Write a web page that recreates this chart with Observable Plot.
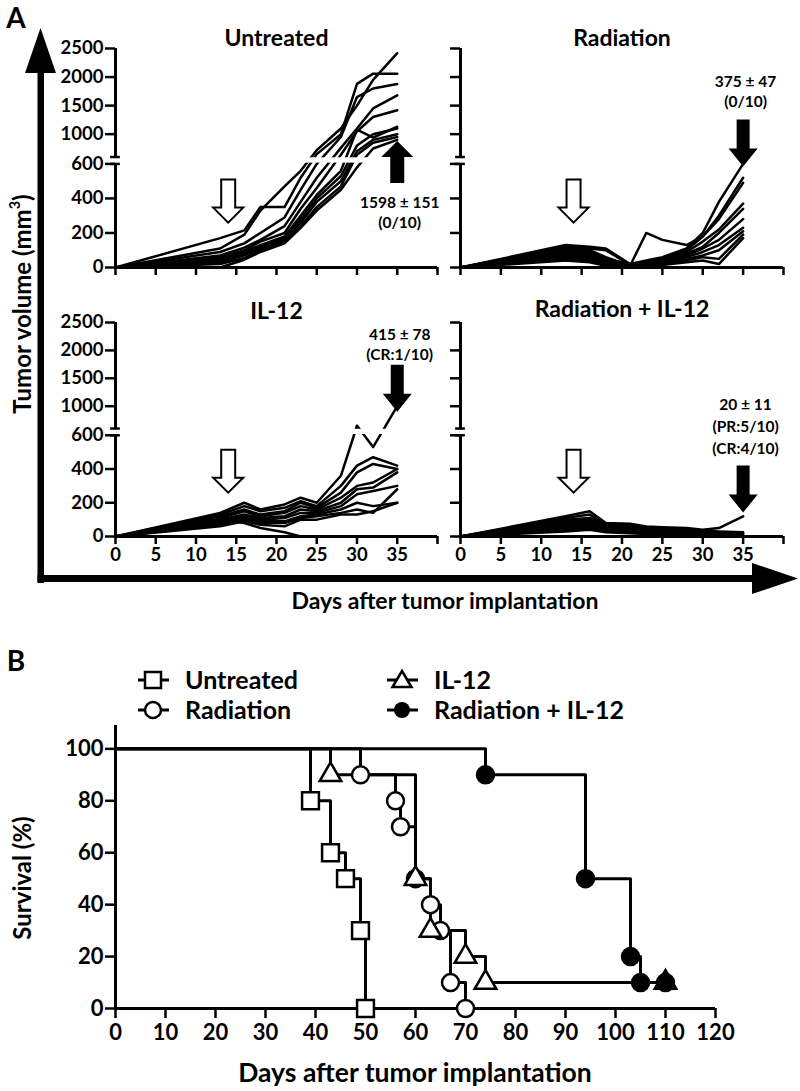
<!DOCTYPE html>
<html><head><meta charset="utf-8">
<script src="https://cdn.jsdelivr.net/npm/d3@7"></script>
<script src="https://cdn.jsdelivr.net/npm/@observablehq/plot@0.6"></script>
<style>
html,body{margin:0;padding:0;background:#fff;}
#root{position:relative;width:800px;height:1091px;overflow:hidden;font-family:Lato,"Open Sans",sans-serif;font-weight:bold;color:#000;}
#root svg{overflow:visible;}
.abs{position:absolute;}
.ctr{transform:translate(-50%,-50%);white-space:nowrap;line-height:1;}
.rot{transform:translate(-50%,-50%) rotate(-90deg);white-space:nowrap;line-height:1;}
g[aria-label="x-axis tick"], g[aria-label="y-axis tick"]{stroke-width:2.5px;}
</style></head><body><div id="root"></div>
<script>
// ---------- Panel A data (tumor volume, mm^3) ----------
const days = [0, 13, 16, 18, 21, 23, 25, 28, 30, 32, 35];
const untreated = [
  [0,170,215,350,350,520,650,1000,1880,2060,2060],
  [0,110,190,330,470,560,720,1100,1500,1950,2420],
  [0,90,140,200,290,450,600,950,1650,1800,1880],
  [0,70,115,160,240,380,520,760,1100,1450,1680],
  [0,60,100,150,200,340,460,640,1050,1300,1420],
  [0,50,90,130,180,300,420,560,1080,940,1130],
  [0,40,80,120,170,280,400,530,800,1000,1100],
  [0,30,70,110,160,260,380,500,700,900,1000],
  [0,20,55,100,150,240,350,470,640,850,950],
  [0,0,45,90,140,230,330,450,580,750,900]
];
const radiation = [
  [0,130,120,110,20,40,60,110,200,380,600],
  [0,120,110,100,15,30,50,100,180,300,520],
  [0,110,100,60,10,200,160,130,180,280,490],
  [0,100,90,50,20,25,45,90,150,220,370],
  [0,90,80,40,10,20,40,80,120,200,340],
  [0,80,70,30,15,20,35,70,110,160,280],
  [0,70,60,25,10,15,30,60,90,130,230],
  [0,60,50,20,5,10,25,50,70,100,210],
  [0,50,40,15,5,10,20,40,60,50,190],
  [0,40,30,10,5,5,15,30,40,20,170]
];
const il12 = [
  [0,140,200,160,190,230,200,360,650,530,1000],
  [0,130,180,150,170,210,180,300,420,470,420],
  [0,120,160,130,150,200,170,260,380,430,400],
  [0,110,150,120,140,180,160,230,300,320,400],
  [0,100,130,110,120,160,150,200,280,290,380],
  [0,90,120,100,110,140,140,180,250,270,300],
  [0,80,110,90,90,120,130,160,200,180,200],
  [0,70,100,80,80,110,120,140,160,140,280],
  [0,60,90,70,60,100,100,130,130,150,200],
  [0,100,80,50,25,0,0,0,0,0,0]
];
const radIl12 = [
  [0,120,150,80,75,60,55,50,40,50,120],
  [0,110,130,70,70,55,50,45,35,30,25],
  [0,100,110,65,60,50,45,40,30,25,20],
  [0,90,100,55,50,45,40,35,25,20,15],
  [0,80,90,50,45,40,35,30,20,15,10],
  [0,70,80,45,40,35,30,25,15,10,5],
  [0,60,70,40,35,30,25,20,10,5,0],
  [0,50,60,35,30,25,20,15,5,0,0],
  [0,40,50,30,25,20,15,10,0,0,0],
  [0,30,40,25,20,15,10,5,0,0,0]
];
const panelTitles = ["Untreated", "Radiation", "IL-12", "Radiation + IL-12"];
const panelNotes = ["1598 \u00b1 151\n(0/10)", "375 \u00b1 47\n(0/10)", "415 \u00b1 78\n(CR:1/10)", "20 \u00b1 11\n(PR:5/10)\n(CR:4/10)"];
const noteVolume = [430, 2080, 2440, 1210];   // volume level where each note starts
const solidArrowVolume = [880, 585, 900, 142]; // tip of the black arrow (day 35)
const solidArrowUp = [true, false, false, false];
const treatDay = 14, treatVolume = 260;       // hollow arrow tip
const yTickValues = [0, 200, 400, 600, 1000, 1500, 2000, 2500];
const xTickValues = [0, 5, 10, 15, 20, 25, 30, 35, 40];

// ---------- Panel B data (survival, %) ----------
const survGroups = ["Untreated", "Radiation", "IL-12", "Radiation + IL-12"];
const survTimes = [
  [0,39,43,46,49,50],
  [0,49,56,57,60,63,65,67,70],
  [0,43,60,63,70,74,110],
  [0,74,94,103,105,110]
];
const survValues = [
  [100,80,60,50,30,0],
  [100,90,80,70,50,40,30,10,0],
  [100,90,50,30,20,10,10],
  [100,90,50,20,10,10]
];

// ---------- broken-axis transform ----------
const LOW_MAX = 600, LOW_D = 105, UP_D0 = 112, TOP_V = 2500, TOP_D = 222;
function yt(v) {
  return v <= LOW_MAX ? v * LOW_D / LOW_MAX : UP_D0 + (v - LOW_MAX) * (TOP_D - UP_D0) / (TOP_V - LOW_MAX);
}
const yTickD = yTickValues.map(yt);
const yLabel = new Map(yTickD.map((d, i) => [d, String(yTickValues[i])]));

// ---------- arrow symbols (tip at origin) ----------
const hollowArrow = {draw(c) {
  c.moveTo(0, 0); c.lineTo(-15, -15); c.lineTo(-7, -15); c.lineTo(-7, -43);
  c.lineTo(7, -43); c.lineTo(7, -15); c.lineTo(15, -15); c.closePath();
}};
const downArrow = {draw(c) {
  c.moveTo(0, 0); c.lineTo(-14.5, -18); c.lineTo(-6.5, -18); c.lineTo(-6.5, -47);
  c.lineTo(6.5, -47); c.lineTo(6.5, -18); c.lineTo(14.5, -18); c.closePath();
}};
const upArrow = {draw(c) {
  c.moveTo(0, 0); c.lineTo(-16, 16); c.lineTo(-7, 16); c.lineTo(-7, 42);
  c.lineTo(7, 42); c.lineTo(7, 16); c.lineTo(16, 16); c.closePath();
}};

const root = document.getElementById("root");
function place(el, left, top) {
  el.classList.add("abs"); el.style.left = left + "px"; el.style.top = top + "px";
  root.appendChild(el);
}

const allSeries = [untreated, radiation, il12, radIl12];
const layout = [
  {left: 0,   top: 0,   width: 450, height: 290, mL: 115, mR: 13, mT: 48, mB: 23, showX: false, showY: true,  titleDy: -19},
  {left: 450, top: 0,   width: 350, height: 290, mL: 10,  mR: 17, mT: 48, mB: 23, showX: false, showY: false, titleDy: -19},
  {left: 0,   top: 290, width: 450, height: 280, mL: 115, mR: 13, mT: 32, mB: 34, showX: true,  showY: true,  titleDy: -20},
  {left: 450, top: 290, width: 350, height: 280, mL: 10,  mR: 17, mT: 32, mB: 34, showX: true,  showY: false, titleDy: -22}
];

allSeries.forEach((series, k) => {
  const L = layout[k];
  const rows = [];
  series.forEach((vals, id) => vals.forEach((v, j) => rows.push({id, day: days[j], v, d: yt(v)})));
  const chart = Plot.plot({
    width: L.width, height: L.height,
    marginLeft: L.mL, marginRight: L.mR, marginTop: L.mT, marginBottom: L.mB,
    style: {fontFamily: "Lato, sans-serif", fontSize: "18.5px", fontWeight: "bold", background: "transparent", overflow: "visible", color: "black"},
    x: {domain: [0, 40], ticks: xTickValues, tickFormat: d => (L.showX && d < 40) ? String(d) : "", tickSize: 8, tickPadding: 3, label: null},
    y: {domain: [0, TOP_D], ticks: yTickD, tickFormat: d => L.showY ? yLabel.get(d) : "", tickSize: 10, tickPadding: 2, label: null},
    marks: [
      Plot.line(rows, {x: "day", y: "d", z: "id", stroke: "black", strokeWidth: 2.5}),
      Plot.rect([0], {x1: 0.2, x2: 40, y1: LOW_D + 0.8, y2: UP_D0 - 0.8, fill: "white"}),
      Plot.ruleX([0], {y1: 0, y2: LOW_D, strokeWidth: 3}),
      Plot.ruleX([0], {y1: UP_D0, y2: TOP_D, strokeWidth: 3}),
      Plot.ruleY([LOW_D, UP_D0], {x1: -0.6, x2: 0.6, strokeWidth: 2.5}),
      Plot.ruleY([0], {x1: 0, x2: 40, strokeWidth: 3}),
      Plot.text([panelTitles[k]], {frameAnchor: "top", dy: L.titleDy, fontSize: 23, fontWeight: "bold", style: "letter-spacing:0.3px"}),
      Plot.dot([{day: treatDay, v: treatVolume}], {x: "day", y: d => yt(d.v), symbol: hollowArrow, r: 5, fill: "white", stroke: "black", strokeWidth: 2}),
      Plot.dot([{day: 35, v: solidArrowVolume[k]}], {x: "day", y: d => yt(d.v), symbol: solidArrowUp[k] ? upArrow : downArrow, r: 5, fill: "black", stroke: "none"}),
      Plot.text([{day: 35.3, v: noteVolume[k], label: panelNotes[k]}], {x: "day", y: d => yt(d.v), text: "label", lineAnchor: "top", lineHeight: k === 3 ? 1.42 : 1.3, fontSize: 15.5, fontWeight: "bold"})
    ]
  });
  place(chart, L.left, L.top);
});

// big axis arrows of panel A (decoration)
const ov = document.createElementNS("http://www.w3.org/2000/svg", "svg");
ov.setAttribute("width", 800); ov.setAttribute("height", 620);
ov.innerHTML = '<rect x="37.5" y="60" width="6.5" height="523" fill="#000"/>' +
  '<polygon points="25,73 40.5,28 56,73" fill="#000"/>' +
  '<rect x="37.5" y="575" width="720" height="7" fill="#000"/>' +
  '<polygon points="752,563 798,578.5 752,594" fill="#000"/>';
ov.style.pointerEvents = "none";
place(ov, 0, 0);

function label(html, cls, x, y, size) {
  const d = document.createElement("div");
  d.className = cls; d.innerHTML = html; d.style.fontSize = size + "px";
  place(d, x, y);
}
label("A", "ctr", 16, 17, 28);
label("Tumor volume (mm<sup style='font-size:0.6em;vertical-align:0.7em'>3</sup>)", "rot", 21, 304, 24);
label("Days after tumor implantation", "ctr", 445, 600, 23);

// ---------- Panel B ----------
const survRows = [];
survGroups.forEach((g, i) => survTimes[i].forEach((t, j) => survRows.push({g, t, s: survValues[i][j], first: j === 0})));
const markerRows = survRows.filter(d => !d.first);
const markerSpec = [
  {g: "Untreated", symbol: "square", r: 9.5, fill: "white"},
  {g: "Radiation", symbol: "circle", r: 8.5, fill: "white"},
  {g: "IL-12", symbol: "triangle", r: 8, fill: "white"},
  {g: "Radiation + IL-12", symbol: "circle", r: 8.5, fill: "black"}
];

const surv = Plot.plot({
  width: 800, height: 451, marginLeft: 115, marginRight: 85, marginTop: 85, marginBottom: 83,
  style: {fontFamily: "Lato, sans-serif", fontSize: "22px", fontWeight: "bold", background: "transparent", overflow: "visible", color: "black"},
  x: {domain: [0, 120], ticks: d3.range(0, 121, 10), tickSize: 10, tickPadding: 6, label: null},
  y: {domain: [0, 109], ticks: [0, 20, 40, 60, 80, 100], tickSize: 10, tickPadding: 2, label: null},
  marks: [
    Plot.ruleX([0], {y1: 0, y2: 109, strokeWidth: 3}),
    Plot.ruleY([0], {x1: 0, x2: 120, strokeWidth: 3}),
    Plot.line(survRows, {x: "t", y: "s", z: "g", curve: "step-after", stroke: "black", strokeWidth: 3}),
    ...markerSpec.map(m => Plot.dot(markerRows.filter(d => d.g === m.g), {x: "t", y: "s", symbol: m.symbol, r: m.r, fill: m.fill, stroke: "black", strokeWidth: 2.5}))
  ]
});
place(surv, 0, 640);

label("B", "ctr", 16, 660, 28);
label("Survival (%)", "rot", 22, 878, 24);
label("Days after tumor implantation", "ctr", 415, 1072, 26.5);

// legend
const leg = document.createElementNS("http://www.w3.org/2000/svg", "svg");
leg.setAttribute("width", 520); leg.setAttribute("height", 60);
const legItems = [
  {name: "Untreated", x: 13, y: 15, shape: '<rect x="-8" y="-8" width="16" height="16" fill="#fff" stroke="#000" stroke-width="2.5"/>'},
  {name: "Radiation", x: 13, y: 45, shape: '<circle r="8" fill="#fff" stroke="#000" stroke-width="2.5"/>'},
  {name: "IL-12", x: 262, y: 15, shape: '<path d="M0,-9 L9.5,7 L-9.5,7 Z" fill="#fff" stroke="#000" stroke-width="2.5"/>'},
  {name: "Radiation + IL-12", x: 262, y: 45, shape: '<circle r="8" fill="#000"/>'}
];
leg.innerHTML = legItems.map(it =>
  `<g transform="translate(${it.x},${it.y})"><line x1="-15" x2="16" stroke="#000" stroke-width="3"/>${it.shape}` +
  `<text x="32" dy="0.35em" font-family="Lato, sans-serif" font-weight="bold" font-size="25">${it.name}</text></g>`).join("");
place(leg, 140, 665);
</script></body></html>
